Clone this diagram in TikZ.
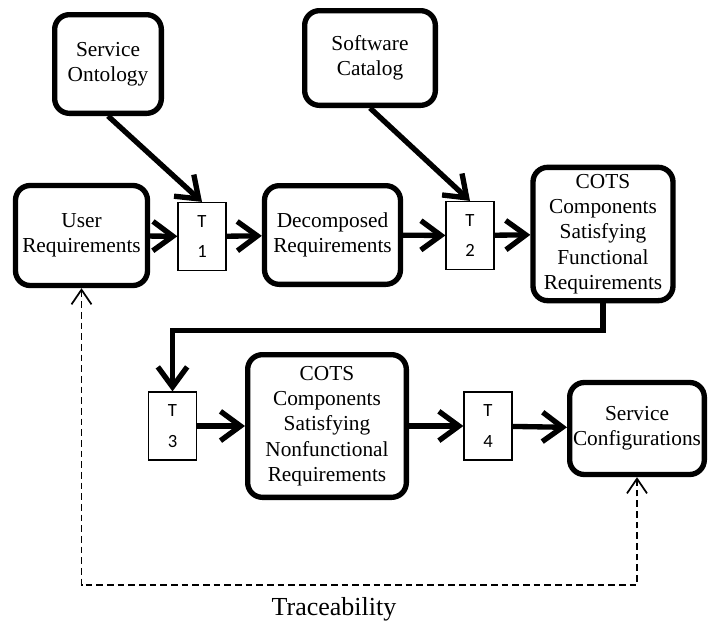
\documentclass[tikz,border=0pt]{standalone}
\usepackage{fontspec}
\setmainfont{Liberation Serif}
\newfontfamily\tfont{Carlito}
\usetikzlibrary{arrows.meta}

\begin{document}
\begin{tikzpicture}[x=0.75pt,y=0.75pt,yscale=-1,xscale=1,
  block/.style={draw, line width=4pt, rounded corners=11pt, align=center, inner sep=0pt, font=\fontsize{16}{19}\selectfont},
  tbox/.style={draw, line width=0.9pt, minimum width=36pt, minimum height=51pt, align=center, font=\tfont\fontsize{14}{23}\selectfont},
  flow/.style={line width=4pt, -{Straight Barb[length=15pt,width=22pt]}},
  trace/.style={line width=1.3pt, dash pattern=on 5pt off 3pt, {Straight Barb[length=11pt,width=15pt]}-{Straight Barb[length=11pt,width=15pt]}}]
  \useasboundingbox (0,0) rectangle (708,628); %picture is 708 by 628

  % Text Node
  \node[block, minimum width=80pt, minimum height=74pt] (ont) at (108,64) {Service\\Ontology};
  % Text Node
  \node[block, minimum width=98pt, minimum height=71pt] (cat) at (370,58) {Software\\Catalog};
  % Text Node
  \node[block, minimum width=99pt, minimum height=75pt] (user) at (81.5,235.5) {User\\Requirements};
  % Text Node
  \node[tbox] (t1) at (202,236.5) {T\\1};
  % Text Node
  \node[block, minimum width=102pt, minimum height=74pt] (dec) at (332.5,235) {Decomposed\\Requirements};
  % Text Node
  \node[tbox] (t2) at (470,235.5) {T\\2};
  % Text Node
  \node[block, minimum width=105pt, minimum height=100pt] (cotsf) at (603,234) {COTS\\Components\\Satisfying\\Functional\\Requirements};
  % Text Node
  \node[tbox] (t3) at (172.5,426) {T\\3};
  % Text Node
  \node[block, minimum width=119pt, minimum height=107pt] (cotsn) at (327,426) {COTS\\Components\\Satisfying\\Nonfunctional\\Requirements};
  % Text Node
  \node[tbox] (t4) at (488,426) {T\\4};
  % Text Node
  \node[block, minimum width=101pt, minimum height=69pt] (conf) at (637,428.5) {Service\\Configurations};
  % Text Node
  \node[font=\fontsize{19.5}{23}\selectfont] (tracelabel) at (334,609) {Traceability};

  \coordinate (bend) at (172.5,330.5);
  \coordinate (tracebase) at (334,585);

  %Straight Lines
  \draw[flow] (ont.south) -- (t1.north);
  \draw[flow] (cat.south) -- (t2.north);
  \draw[flow] (user) -- (t1);
  \draw[flow] (t1) -- (dec);
  \draw[flow] (dec) -- (t2);
  \draw[flow] (t2) -- (cotsf);
  \draw[flow] (cotsf.south) |- (bend) -| (t3.north);
  \draw[flow] (t3) -- (cotsn);
  \draw[flow] (cotsn) -- (t4);
  \draw[flow] (t4) -- (conf);
  %Dashed trace line
  \draw[trace] (user.south) |- (tracebase) -| (conf.south);
\end{tikzpicture}
\end{document}
